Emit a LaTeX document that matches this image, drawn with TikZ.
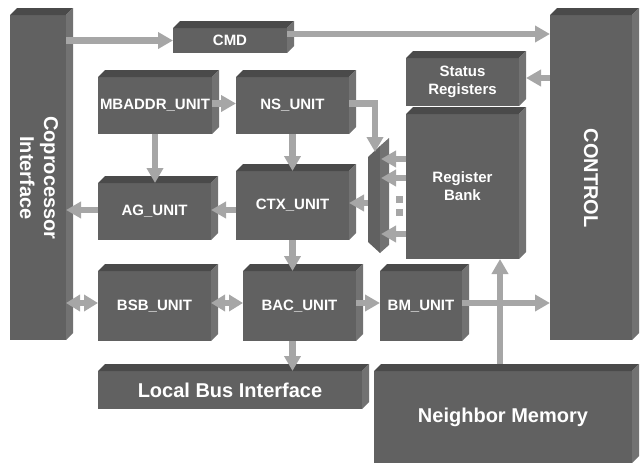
\documentclass[tikz,border=0pt]{standalone}
\usepackage{fontspec}
\setmainfont{Liberation Sans}
\usetikzlibrary{arrows.meta}

\definecolor{frontgray}{HTML}{616161}
\definecolor{topgray}{HTML}{4A4A4A}
\definecolor{sidegray}{HTML}{727272}
\definecolor{wiregray}{HTML}{A6A6A6}

\tikzset{
  blockfront/.style={fill=frontgray, inner sep=0pt, outer sep=0pt, text=white,
    font=\bfseries\fontsize{15}{18}\selectfont, align=center},
  blocktop/.style={fill=topgray},
  blockside/.style={fill=sidegray},
  bigtext/.style={font=\bfseries\fontsize{20}{24}\selectfont},
  wire/.style={draw=wiregray, line width=6.5pt,
    -{Triangle[length=15pt,width=16pt]}},
  biwire/.style={draw=wiregray, line width=6.5pt,
    {Triangle[length=14pt,width=16pt]}-{Triangle[length=14pt,width=16pt]}},
}

% 3D block: front face node plus top and right faces
% #2 name, #3/#4 centre, #5 width, #6 height, #7 text
\newcommand\blockcube[7][]{%
  \node[blockfront,#1,minimum width=#5pt,minimum height=#6pt] (#2) at (#3,#4) {#7};
  \fill[blocktop] (#2.north west) -- ++(7pt,7pt)
    -- ([shift={(7pt,7pt)}]#2.north east) -- (#2.north east) -- cycle;
  \fill[blockside] (#2.north east) -- ++(7pt,7pt)
    -- ([shift={(7pt,7pt)}]#2.south east) -- (#2.south east) -- cycle;
}

\begin{document}
\begin{tikzpicture}[x=1pt,y=-1pt]
\useasboundingbox (0,0) rectangle (643,463);

% blocks
\blockcube{cop}{38}{177.5}{56}{325}{}
\blockcube{cmd}{230}{40.5}{114}{25}{CMD}
\blockcube{ctrl}{591}{177.5}{82}{325}{}
\blockcube{stat}{462.5}{82}{113}{48}{Status\\Registers}
\blockcube{rbank}{462.5}{186.5}{113}{145}{Register\\Bank}
\blockcube{mbaddr}{155}{105.5}{114}{57}{MBADDR\_UNIT}
\blockcube{ns}{292.5}{105.5}{113}{57}{NS\_UNIT}
\blockcube{ag}{154.5}{211.5}{113}{57}{AG\_UNIT}
\blockcube{ctx}{292.5}{205.5}{113}{69}{CTX\_UNIT}
\blockcube{bsb}{154.5}{306}{113}{70}{BSB\_UNIT}
\blockcube{bac}{299.5}{306}{113}{70}{BAC\_UNIT}
\blockcube{bm}{421}{306}{82}{70}{BM\_UNIT}
\blockcube[bigtext]{lbi}{230}{390}{264}{38}{Local Bus Interface}
\blockcube[bigtext]{nmem}{503}{417}{258}{92}{Neighbor Memory}

% vertical labels
\node[bigtext, text=white, rotate=-90, align=center] (coplbl) at (39,178) {Coprocessor\\Interface};
\node[bigtext, text=white, rotate=-90] (ctrllbl) at (591,178) {CONTROL};

% register multiplexer plate
\fill[frontgray] (368,157) -- (380,146) -- (380,253) -- (368,242) -- cycle;
\fill[sidegray] (380,146) -- (389,138) -- (389,245) -- (380,253) -- cycle;
\coordinate (muxtop) at (375,152);
\coordinate (muxout) at (368,203);
\coordinate (tap1) at (381,159);
\coordinate (tap2) at (381,178);
\coordinate (tap3) at (381,234);

% connectors
\draw[wire] (cmd.west -| cop.east) -- (cmd.west);
\coordinate (cmdout) at ([yshift=6.5pt]cmd.east);
\draw[wire] (cmdout) -- (cmdout -| ctrl.west);
\coordinate (statin) at ([shift={(7pt,4pt)}]stat.east);
\draw[wire] (statin -| ctrl.west) -- (statin);

\coordinate (nsrow) at ([yshift=2pt]mbaddr.east);
\draw[wire] (nsrow) -- (nsrow -| ns.west);
\draw[wire] (nsrow -| ns.east) -| (muxtop);

\draw[wire] (mbaddr.south) -- (mbaddr.south |- ag.north);
\draw[wire] (ns.south) -- (ns.south |- ctx.north);

\coordinate (agrow) at ([yshift=1.5pt]ag.east);
\draw[wire] (agrow -| ctx.west) -- (agrow);
\draw[wire] (agrow -| ag.west) -- (agrow -| cop.east);
\draw[wire] (muxout) -- (muxout -| ctx.east);

\draw[wire] (rbank.west |- tap1) -- (tap1);
\draw[wire] (rbank.west |- tap2) -- (tap2);
\draw[wire] (rbank.west |- tap3) -- (tap3);
\fill[wiregray] (396,196) rectangle (403,203);
\fill[wiregray] (396,209) rectangle (403,216);

\draw[wire] (ns.south |- ctx.south) -- (ns.south |- bac.north);
\draw[wire] (ns.south |- bac.south) -- (ns.south |- lbi.north);

\coordinate (busrow) at ([yshift=3pt]bsb.west);
\draw[biwire] (busrow) -- (busrow -| cop.east);
\draw[biwire] (busrow -| bsb.east) -- (busrow -| bac.west);
\draw[wire] (busrow -| bac.east) -- (busrow -| bm.west);
\draw[wire] (busrow -| bm.east) -- (busrow -| ctrl.west);

\coordinate (nmtap) at (500,364);
\draw[wire] (nmtap) -- (nmtap |- rbank.south);
\end{tikzpicture}
\end{document}
